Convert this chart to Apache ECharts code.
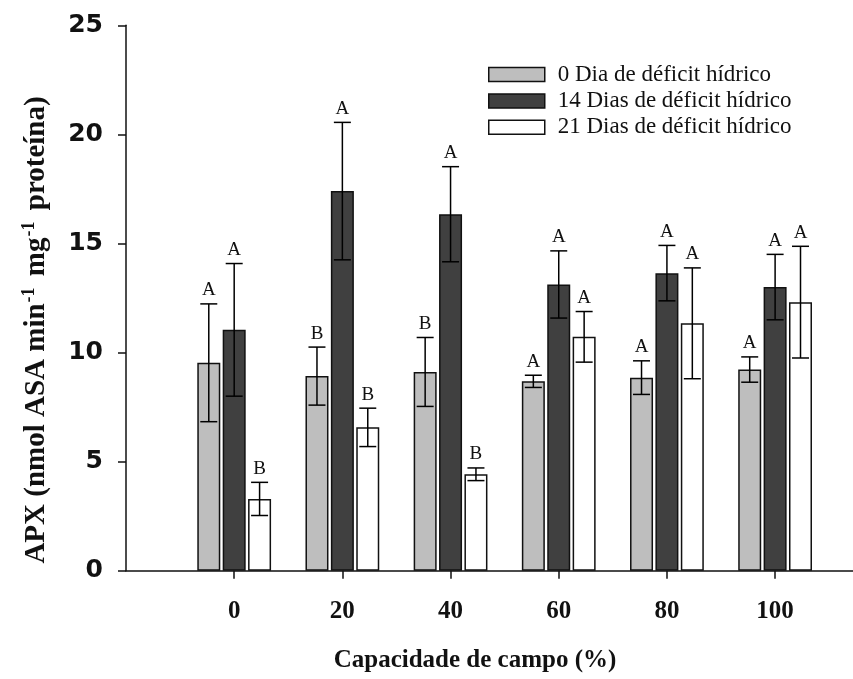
<!DOCTYPE html>
<html>
<head>
<meta charset="utf-8">
<script src="https://cdn.jsdelivr.net/npm/echarts@6/dist/echarts.min.js"></script>
<style>
html,body{margin:0;padding:0;background:#fff;}
#chart{width:853px;height:679px;}
</style>
</head>
<body>
<div id="chart"></div>
<script>
// ---- data ----
var categories = [0, 20, 40, 60, 80, 100];
var seriesNames = ['0 Dia de déficit hídrico', '14 Dias de déficit hídrico', '21 Dias de déficit hídrico'];
var day0 = [9.53, 8.92, 9.11, 8.68, 8.85, 9.22];
var day0Err = [2.7, 1.33, 1.58, 0.28, 0.77, 0.58];
var day14 = [11.04, 17.4, 16.34, 13.12, 13.64, 13.0];
var day14Err = [3.04, 3.15, 2.18, 1.54, 1.27, 1.5];
var day21 = [3.29, 6.57, 4.42, 10.72, 11.34, 12.31];
var day21Err = [0.76, 0.88, 0.29, 1.16, 2.54, 2.56];
var letters0 = ['A', 'B', 'B', 'A', 'A', 'A'];
var letters14 = ['A', 'A', 'A', 'A', 'A', 'A'];
var letters21 = ['B', 'B', 'B', 'A', 'A', 'A'];

var serif = "'Liberation Serif','Times New Roman',serif";
var sans = "'DejaVu Sans','Liberation Sans',Arial,sans-serif";
var colors = ['#bebebe', '#404040', '#ffffff'];
var barW = 23;
var barGapPx = 2.4;
var offsets = [-(barW + barGapPx), 0, barW + barGapPx];

var means = [day0, day14, day21];
var errs = [day0Err, day14Err, day21Err];
var letters = [letters0, letters14, letters21];

var series = [];
for (var s = 0; s < 3; s++) {
  series.push({
    name: seriesNames[s],
    type: 'bar',
    barWidth: barW,
    barGap: (barGapPx / barW * 100).toFixed(1) + '%',
    data: categories.map(function (c, i) { return [c, means[s][i]]; }),
    itemStyle: { color: colors[s], borderColor: '#111', borderWidth: 1.5 },
    z: 2
  });
}
for (var s2 = 0; s2 < 3; s2++) {
  (function (s) {
    series.push({
      name: seriesNames[s] + ' err',
      type: 'custom',
      encode: { x: 0, y: 1 },
      data: categories.map(function (c, i) { return [c, means[s][i], errs[s][i]]; }),
      z: 5,
      silent: true,
      renderItem: function (params, api) {
        var x = api.value(0), m = api.value(1), e = api.value(2);
        var pHi = api.coord([x, m + e]);
        var pLo = api.coord([x, m - e]);
        var cx = pHi[0] + offsets[s];
        var cap = 8.5;
        var st = { stroke: '#000', lineWidth: 1.5 };
        return {
          type: 'group',
          children: [
            { type: 'line', shape: { x1: cx, y1: pHi[1], x2: cx, y2: pLo[1] }, style: st },
            { type: 'line', shape: { x1: cx - cap, y1: pHi[1], x2: cx + cap, y2: pHi[1] }, style: st },
            { type: 'line', shape: { x1: cx - cap, y1: pLo[1], x2: cx + cap, y2: pLo[1] }, style: st },
            { type: 'text', x: cx, y: pHi[1] - 4, style: {
              text: letters[s][params.dataIndex], fill: '#111',
              font: '19px ' + serif, textAlign: 'center', textVerticalAlign: 'bottom' } }
          ]
        };
      }
    });
  })(s2);
}

var chart = echarts.init(document.getElementById('chart'), null, { renderer: 'canvas' });
chart.setOption({
  backgroundColor: '#fff',
  animation: false,
  grid: { left: 126, right: 0, top: 25.3, bottom: 108.3, containLabel: false },
  legend: {
    data: seriesNames,
    orient: 'vertical',
    left: 488, top: 63, padding: 0,
    itemWidth: 56, itemHeight: 14, itemGap: 3.4,
    icon: 'rect',
    itemStyle: { borderColor: '#111', borderWidth: 1.5 },
    textStyle: { fontFamily: serif, fontSize: 23, color: '#111', padding: [0, 0, 0, 8] },
    selectedMode: false
  },
  xAxis: {
    type: 'value',
    min: -20, max: 114.4, interval: 20,
    axisLine: { onZero: false, lineStyle: { color: '#111', width: 1.5 } },
    axisTick: { show: true, inside: false, length: 8, lineStyle: { color: '#111', width: 1.5 }, customValues: categories },
    axisLabel: { customValues: categories, fontFamily: serif, fontWeight: 'bold', fontSize: 25, color: '#111', margin: 28 },
    splitLine: { show: false }
  },
  yAxis: {
    type: 'value',
    min: 0, max: 25, interval: 5,
    axisLine: { show: true, onZero: false, lineStyle: { color: '#111', width: 1.5 } },
    axisTick: { show: true, inside: false, length: 8, lineStyle: { color: '#111', width: 1.5 } },
    axisLabel: { fontFamily: sans, fontWeight: 'bold', fontSize: 25, color: '#111', margin: 23 },
    splitLine: { show: false }
  },
  graphic: [
    {
      type: 'text', x: 475, y: 661,
      style: { text: 'Capacidade de campo (%)', font: 'bold 25px ' + serif, fill: '#111',
        textAlign: 'center', textVerticalAlign: 'middle' }
    },
    {
      type: 'text', x: 37, y: 330, rotation: Math.PI / 2,
      style: {
        text: 'APX (nmol ASA min{sup|-1} mg{sup|-1} proteína)',
        font: 'bold 29px ' + serif, fill: '#111',
        textAlign: 'center', textVerticalAlign: 'middle',
        rich: {
          sup: { fontSize: 18, fontWeight: 'bold', fontFamily: serif, verticalAlign: 'top', lineHeight: 33, padding: [0, 4, 15, 1] }
        },
        lineHeight: 33
      }
    }
  ],
  series: series
});
</script>
</body>
</html>
